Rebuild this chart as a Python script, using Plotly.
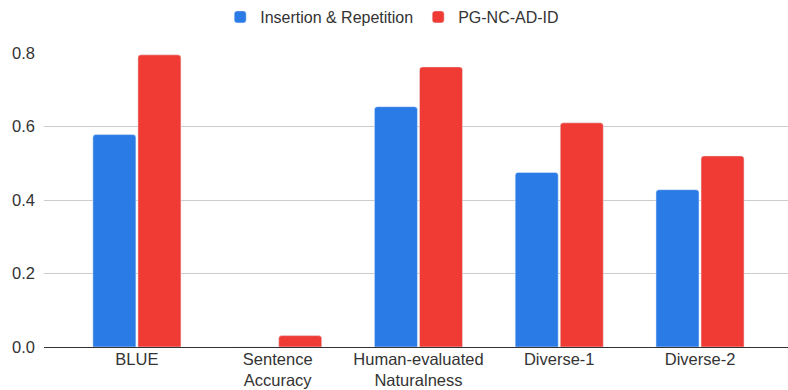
import plotly.graph_objects as go

categories = ["BLUE", "Sentence<br>Accuracy", "Human-evaluated<br>Naturalness", "Diverse-1", "Diverse-2"]
insertion_repetition = [0.578, 0.0, 0.654, 0.475, 0.428]
pg_nc_ad_id = [0.795, 0.031, 0.762, 0.610, 0.520]
y_ticks = [0.0, 0.2, 0.4, 0.6, 0.8]
y_tick_labels = ["0.0", "0.2", "0.4", "0.6", "0.8"]

fig = go.Figure()
fig.add_trace(go.Bar(name="Insertion & Repetition", x=categories, y=insertion_repetition,
                     marker_color="#2B7BE6"))
fig.add_trace(go.Bar(name="PG-NC-AD-ID", x=categories, y=pg_nc_ad_id,
                     marker_color="#F03B35"))

fig.update_layout(
    width=788, height=390,
    margin=dict(l=44, r=0, t=52, b=43),
    paper_bgcolor="white", plot_bgcolor="white",
    font=dict(family="Liberation Sans, Arial, sans-serif", size=16.5, color="#333"),
    barmode="group", bargap=0.36, bargroupgap=0.045, barcornerradius=3,
    legend=dict(orientation="h", x=0.468, xanchor="center", y=1.122, yanchor="middle",
                font=dict(size=16, color="#333"), itemwidth=30),
    xaxis=dict(showgrid=False, ticks="", range=[-0.66, 4.625],
               tickfont=dict(size=16.5, color="#333")),
    yaxis=dict(range=[0, 0.8], tickvals=y_ticks, ticktext=y_tick_labels,
               gridcolor="#cccccc", gridwidth=1, zeroline=True, zerolinecolor="#333",
               zerolinewidth=1, ticks="", tickfont=dict(size=16.5, color="#333"),
               ticklabelstandoff=8),
)
fig.write_html("out.html")
